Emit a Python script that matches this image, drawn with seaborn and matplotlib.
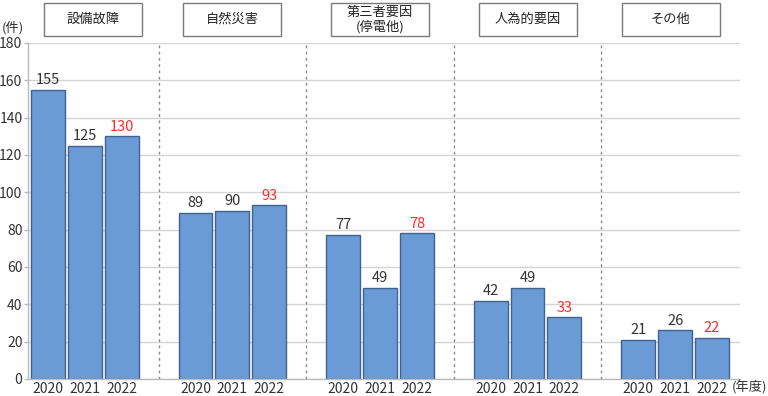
import matplotlib
matplotlib.use("Agg")
import matplotlib.pyplot as plt
import seaborn as sns
import pandas as pd
from matplotlib.patches import Rectangle
from matplotlib.transforms import blended_transform_factory

# data
categories = ["設備故障", "自然災害", "第三者要因\n(停電他)", "人為的要因", "その他"]
years = ["2020", "2021", "2022"]
v2020 = [155, 89, 77, 42, 21]
v2021 = [125, 90, 49, 49, 26]
v2022 = [130, 93, 78, 33, 22]

sns.set_theme(style="white")
plt.rcParams["font.family"] = ["Noto Sans CJK JP", "DejaVu Sans"]

rows = []
for g, cat in enumerate(categories):
    for k, vals in enumerate([v2020, v2021, v2022]):
        rows.append({"pos": 4 * g + k - 1, "year": years[k], "count": vals[g]})
df = pd.DataFrame(rows)

fig = plt.figure(figsize=(7.68, 3.96), dpi=100)
ax = fig.add_axes([28 / 768, 17 / 396, 712 / 768, 336 / 396])

sns.barplot(
    data=df, x="pos", y="count", native_scale=True, width=0.92,
    color="#6A9BD7", saturation=1, edgecolor="#41628f", linewidth=1,
    errorbar=None, ax=ax,
)

xmin, xmax = -1.54, 17.76
ax.set_xlim(xmin, xmax)
ax.set_ylim(0, 180)
ax.set_yticks(range(0, 181, 20))
ax.set_xticks(df["pos"])
ax.set_xticklabels(df["year"])
ax.set_xlabel("")
ax.set_ylabel("")
ax.tick_params(axis="x", length=0, labelsize=10, labelcolor="#333333", pad=2)
ax.tick_params(axis="y", length=3, width=1, color="#bbbbbb", labelsize=10,
               labelcolor="#333333", pad=1, left=True)
ax.grid(axis="y", color="#d4d4d4", lw=1)
ax.set_axisbelow(True)
for side in ["top", "right"]:
    ax.spines[side].set_visible(False)
for side in ["left", "bottom"]:
    ax.spines[side].set_color("#bbbbbb")
    ax.spines[side].set_linewidth(1)

for g in range(len(categories) - 1):
    ax.axvline(4 * g + 2, color="#8a8a8a", lw=1, ls=(0, (2, 2.5)), zorder=1)

# value labels, latest year in red
labels = ax.bar_label(ax.containers[0], fmt="%d", padding=2, fontsize=10.5)
for lab, yr in zip(labels, df["year"]):
    lab.set_color("#ff2a2a" if yr == "2022" else "#333333")

# category boxes above each group
trans = blended_transform_factory(ax.transData, fig.transFigure)
box_w = 98 / 712 * (xmax - xmin)
for g, cat in enumerate(categories):
    left_edge = xmin if g == 0 else 4 * g - 2
    right_edge = xmax if g == len(categories) - 1 else 4 * g + 2
    cx = (left_edge + right_edge) / 2
    ax.add_patch(Rectangle((cx - box_w / 2, 1 - 36 / 396), box_w, 33 / 396,
                           transform=trans, facecolor="white", edgecolor="#7a7a7a",
                           lw=1, clip_on=False))
    ax.text(cx, 1 - 19.5 / 396, cat, transform=trans, ha="center", va="center",
            fontsize=9.5, color="#222222", linespacing=1.15)

fig.text(2 / 768, 1 - 28 / 396, "(件)", fontsize=9.5, color="#333333", va="center")
fig.text(767 / 768, 8 / 396, "(年度)", fontsize=9.5, color="#333333", ha="right", va="center")

fig.savefig("out.png", dpi=100)
